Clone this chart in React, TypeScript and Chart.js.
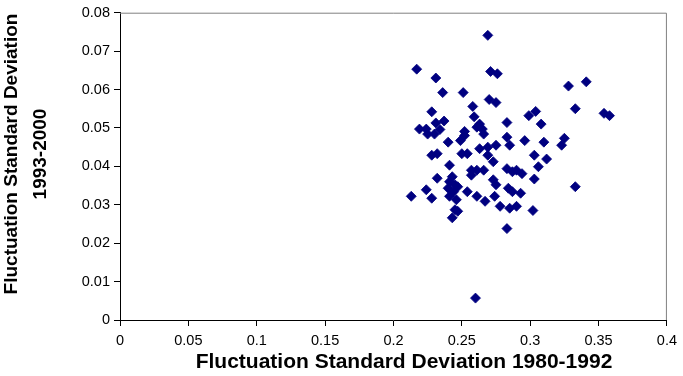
import React, { useEffect, useRef } from "react";
import { Chart, registerables } from "chart.js";

Chart.register(...registerables);

const xValues: number[] = [
  0.269, 0.217, 0.231, 0.271, 0.276, 0.236, 0.251, 0.27, 0.275, 0.258,
  0.228, 0.237, 0.231, 0.259, 0.283, 0.263, 0.219, 0.224, 0.234, 0.252,
  0.261, 0.265, 0.328, 0.341, 0.299, 0.304, 0.308, 0.333, 0.354, 0.358,
  0.225, 0.23, 0.266, 0.252, 0.249, 0.24, 0.283, 0.285, 0.275, 0.269,
  0.263, 0.232, 0.228, 0.254, 0.25, 0.269, 0.273, 0.241, 0.257, 0.261,
  0.266, 0.257, 0.243, 0.283, 0.287, 0.232, 0.241, 0.245, 0.273, 0.275,
  0.24, 0.244, 0.247, 0.224, 0.228, 0.213, 0.254, 0.284, 0.287, 0.241,
  0.246, 0.261, 0.267, 0.274, 0.245, 0.278, 0.285, 0.247, 0.243, 0.296,
  0.31, 0.325, 0.323, 0.303, 0.312, 0.306, 0.29, 0.294, 0.303, 0.333,
  0.293, 0.29, 0.302, 0.283, 0.26,
];

const yValues: number[] = [
  0.0741, 0.0653, 0.063, 0.0647, 0.0641, 0.0592, 0.0592, 0.0574, 0.0566, 0.0556,
  0.0542, 0.0518, 0.0513, 0.0529, 0.0514, 0.051, 0.0497, 0.0497, 0.0496, 0.0491,
  0.0502, 0.0497, 0.0609, 0.062, 0.0532, 0.0543, 0.051, 0.055, 0.0538, 0.0532,
  0.0484, 0.0484, 0.0484, 0.048, 0.0467, 0.0463, 0.0476, 0.0455, 0.0455, 0.045,
  0.0446, 0.0433, 0.0429, 0.0433, 0.0433, 0.0429, 0.0412, 0.0403, 0.039, 0.039,
  0.039, 0.0377, 0.0373, 0.0394, 0.0386, 0.0369, 0.036, 0.0352, 0.0365, 0.0352,
  0.0343, 0.0334, 0.0347, 0.0339, 0.0317, 0.0322, 0.0334, 0.0343, 0.0334, 0.0322,
  0.0313, 0.0322, 0.0309, 0.0322, 0.0287, 0.0296, 0.0291, 0.0283, 0.0266, 0.0467,
  0.0463, 0.0473, 0.0455, 0.0429, 0.0419, 0.0399, 0.039, 0.0381, 0.0367, 0.0347,
  0.033, 0.0296, 0.0285, 0.0238, 0.0057,
];

const xTickLabels: string[] = ["0", "0.05", "0.1", "0.15", "0.2", "0.25", "0.3", "0.35", "0.4"];
const yTickLabels: string[] = ["0", "0.01", "0.02", "0.03", "0.04", "0.05", "0.06", "0.07", "0.08"];
const xTitle = "Fluctuation Standard Deviation 1980-1992";
const yTitleLines: string[] = ["Fluctuation Standard Deviation", "1993-2000"];

const FONT = "'Liberation Sans', Arial, sans-serif";

const framePlugin = {
  id: "frame",
  beforeDatasetsDraw(chart: any) {
    const { ctx, chartArea } = chart;
    ctx.save();
    ctx.strokeStyle = "#808080";
    ctx.lineWidth = 1;
    ctx.beginPath();
    ctx.moveTo(chartArea.left, chartArea.top + 0.5);
    ctx.lineTo(chartArea.right - 0.5, chartArea.top + 0.5);
    ctx.lineTo(chartArea.right - 0.5, chartArea.bottom);
    ctx.stroke();
    ctx.restore();
  },
};

const titlesPlugin = {
  id: "customTitles",
  afterDraw(chart: any) {
    const { ctx } = chart;
    ctx.save();
    ctx.fillStyle = "#000000";
    ctx.textAlign = "center";
    ctx.textBaseline = "middle";
    ctx.font = `bold 21px ${FONT}`;
    ctx.fillText(xTitle, 404, 362);
    ctx.translate(0, 154);
    ctx.rotate(-Math.PI / 2);
    ctx.font = `bold 19px ${FONT}`;
    ctx.fillText(yTitleLines[0], 0, 12);
    ctx.fillText(yTitleLines[1], 0, 41);
    ctx.restore();
  },
};

export default function App() {
  const canvasRef = useRef<HTMLCanvasElement | null>(null);

  useEffect(() => {
    document.body.style.margin = "0";
    const canvas = canvasRef.current;
    if (!canvas) return;
    const points = xValues.map((x, i) => ({ x, y: yValues[i] }));
    const chart = new Chart(canvas, {
      type: "scatter",
      data: {
        datasets: [
          {
            data: points,
            pointStyle: "rectRot",
            pointRadius: 5,
            pointBorderWidth: 0.8,
            backgroundColor: "#000080",
            borderColor: "#000080",
          },
        ],
      },
      options: {
        animation: false,
        responsive: false,
        maintainAspectRatio: false,
        layout: { padding: { left: 0, top: 9, right: 16, bottom: 0 } },
        plugins: {
          legend: { display: false },
          tooltip: { enabled: false },
        },
        scales: {
          x: {
            type: "linear",
            min: 0,
            max: 0.4,
            afterFit: (s: any) => {
              s.height = 56;
            },
            ticks: {
              stepSize: 0.05,
              color: "#000000",
              font: { family: FONT, size: 14.5 },
              padding: 6,
              maxRotation: 0,
              autoSkip: false,
              callback: (_v: any, i: number) => xTickLabels[i],
            },
            grid: {
              drawOnChartArea: false,
              drawTicks: true,
              tickLength: 6,
              color: "#000000",
            },
            border: { color: "#000000", width: 1 },
          },
          y: {
            type: "linear",
            min: 0,
            max: 0.08,
            afterFit: (s: any) => {
              s.width = 120;
            },
            ticks: {
              stepSize: 0.01,
              color: "#000000",
              font: { family: FONT, size: 14.5 },
              padding: 4,
              autoSkip: false,
              callback: (_v: any, i: number) => yTickLabels[i],
            },
            grid: {
              drawOnChartArea: false,
              drawTicks: true,
              tickLength: 6,
              color: "#000000",
            },
            border: { color: "#000000", width: 1 },
          },
        },
      },
      plugins: [framePlugin, titlesPlugin],
    });
    return () => chart.destroy();
  }, []);

  return (
    <div style={{ width: 683, height: 376, background: "#ffffff" }}>
      <canvas ref={canvasRef} width={683} height={376} style={{ display: "block" }} />
    </div>
  );
}
